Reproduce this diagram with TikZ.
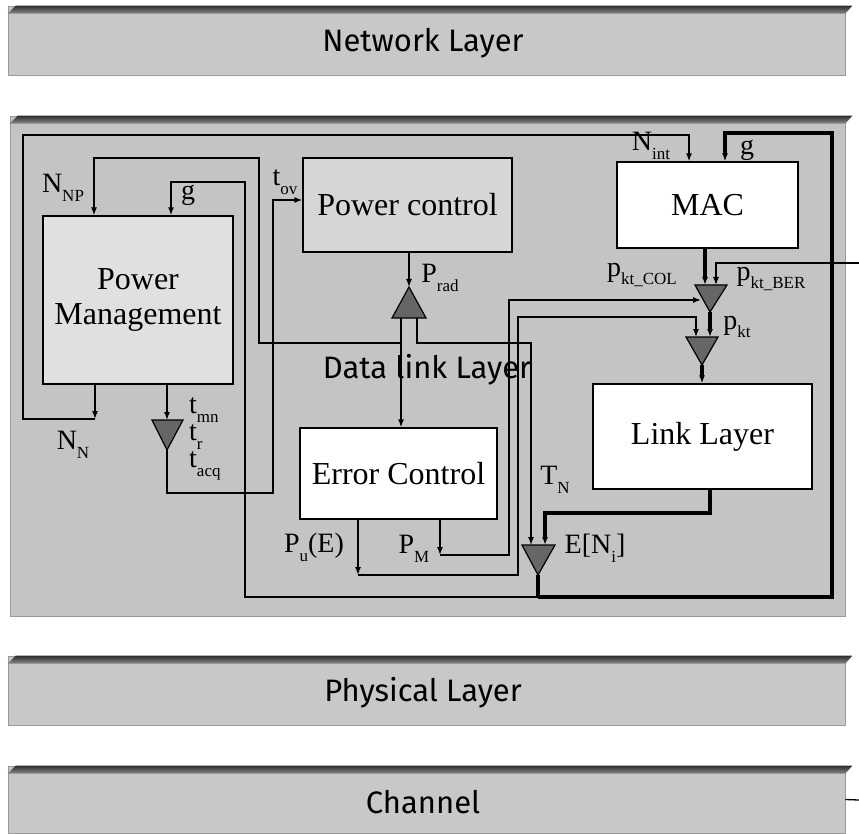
\documentclass[tikz,border=0pt]{standalone}
\usepackage{fontspec}
\setmainfont{Liberation Serif}
\newfontfamily\layerfont{Fira Sans}
\usetikzlibrary{arrows.meta,calc}
\definecolor{bgC}{RGB}{196,196,196}
\definecolor{barC}{RGB}{200,200,200}
\definecolor{pmC}{RGB}{224,224,224}
\definecolor{pcC}{RGB}{214,214,214}
\definecolor{triC}{RGB}{102,102,102}
\definecolor{bandTop}{RGB}{45,45,45}
\definecolor{bandBot}{RGB}{140,140,140}
\newcommand{\lsub}[1]{\raisebox{-0.32em}{\fontsize{17}{17}\selectfont #1}}
\tikzset{
  ln/.style={line width=1.3pt},
  med/.style={line width=2pt},
  thk/.style={line width=3.2pt},
  >={Latex[length=8pt,width=6pt]},
  box/.style={draw, line width=1.3pt, inner sep=0pt, font=\fontsize{32}{32}\selectfont},
  lbl/.style={inner sep=0pt, font=\fontsize{28}{28}\selectfont},
  tri/.style={draw, line width=1.2pt, fill=triC, line join=miter},
  bar/.style={fill=barC, draw=gray!80, line width=0.6pt, inner sep=0pt},
  bartext/.style={inner sep=0pt, font=\layerfont\fontsize{31}{31}\selectfont},
}
\newcommand{\band}[1]{%
  \shade[top color=bandTop, bottom color=bandBot]
    ([yshift=-8pt]#1.north west) -- ([xshift=8pt]#1.north west) --
    ([xshift=7pt]#1.north east) -- ([yshift=-8pt]#1.north east) -- cycle;}
\begin{document}
\begin{tikzpicture}[x=1pt,y=-1pt]
\useasboundingbox[fill=white] (0,0) rectangle (859,834);

% ---------- layer bars ----------
\node[bar, minimum width=837pt, minimum height=69pt] (net) at (426.5,40.5) {};
\band{net}
\node[bartext] (nett) at (423,43) {Network Layer};

\node[bar, fill=bgC, minimum width=835pt, minimum height=500pt] (dl) at (427.5,366) {};
\band{dl}

\node[bar, minimum width=837pt, minimum height=69pt] (phy) at (426.5,690.5) {};
\band{phy}
\node[bartext] (phyt) at (423,693) {Physical Layer};

\node[bar, minimum width=837pt, minimum height=67pt] (chan) at (426.5,799.5) {};
\band{chan}
\node[bartext] (chant) at (423,802) {Channel};
\coordinate (chR) at (859,800);
\draw[ln] (chan.east) -- (chR);

% ---------- boxes ----------
\node[box, fill=pmC, minimum width=190pt, minimum height=168pt, align=center] (pm) at (138,300)
  {Power\\[3pt]Management};
\node[box, fill=pcC, minimum width=209pt, minimum height=94pt] (pc) at (407.5,205) {Power control};
\node[box, fill=white, minimum width=181pt, minimum height=86pt] (mac) at (707.5,205) {MAC};
\node[box, fill=white, minimum width=197pt, minimum height=91pt] (ec) at (398.5,473.5) {Error Control};
\node[box, fill=white, minimum width=219pt, minimum height=105pt] (ll) at (702.5,436.5) {Link Layer};

% ---------- triangle vertices ----------
\coordinate (prapex) at (409,287); \coordinate (prbl) at (392,318); \coordinate (prbr) at (426,318);
\coordinate (utbl) at (695,285); \coordinate (utbr) at (727,285); \coordinate (utapex) at (710,312);
\coordinate (ltbl) at (686,337); \coordinate (ltbr) at (718,337); \coordinate (ltapex) at (702,365);
\coordinate (etbl) at (522,545); \coordinate (etbr) at (555,545); \coordinate (etapex) at (538,575);
\coordinate (ttbl) at (152,420); \coordinate (ttbr) at (183,420); \coordinate (ttapex) at (167,450);

% ---------- N_N -> N_int frame ----------
\coordinate (nnc) at (95,419);
\coordinate (fbl) at (23,419);
\coordinate (ftl) at (23,135);
\coordinate (fint) at (689,135);
\draw[ln,->] (pm.south -| nnc) -- (nnc);
\draw[ln,->] (nnc) -- (fbl) -- (ftl) -- (fint) -- (fint |- mac.north);

% ---------- P_rad ----------
\draw[ln,->] (pc.south -| prapex) -- (prapex);
\coordinate (prs1) at (401,318);
\coordinate (prs2) at (417,318);
\draw[ln,->] (prs1) -- (prs1 |- ec.north);

% ---------- N_NP ----------
\coordinate (prl) at (401,343);
\coordinate (npa) at (259,343);
\coordinate (npt) at (259,158);
\coordinate (npx) at (94,158);
\draw[ln,->] (prl) -- (npa) -- (npt) -- (npx) -- (npx |- pm.north);

% ---------- T_N ----------
\coordinate (tn1) at (417,343);
\coordinate (tn2) at (531,343);
\draw[ln,->] (prs2) -- (tn1) -- (tn2) -- (tn2 |- etbl);

% ---------- t triangle and t_ov ----------
\coordinate (ttop) at (167,420);
\draw[ln,->] (pm.south -| ttop) -- (ttop);
\coordinate (tb) at (167,493);
\coordinate (tbr) at (273,493);
\coordinate (tov) at (273,200);
\draw[ln,->] (ttapex) -- (tb) -- (tbr) -- (tov) -- (tov -| pc.west);

% ---------- P_M ----------
\coordinate (pmk) at (440,555);
\coordinate (pmr) at (509,555);
\coordinate (pmt) at (509,300);
\coordinate (utin) at (701,300);
\draw[ln,->] (ec.south -| pmk) -- (pmk);
\draw[ln,->] (pmk) -- (pmr) -- (pmt) -- (utin);

% ---------- P_u(E) ----------
\coordinate (puk) at (358,575);
\coordinate (pur) at (518,575);
\coordinate (put) at (518,317);
\coordinate (pux) at (696,317);
\draw[ln,->] (ec.south -| puk) -- (puk);
\draw[ln,->] (puk) -- (pur) -- (put) -- (pux) -- (pux |- ltbl);

% ---------- MAC / pkt chain ----------
\coordinate (macout) at (705,285);
\draw[thk,->] (mac.south -| macout) -- (macout);
\coordinate (berR) at (859,263);
\coordinate (ber) at (716,263);
\draw[ln,->] (berR) -- (ber) -- (ber |- utbl);
\coordinate (ltin) at (710,337);
\draw[thk,->] (utapex) -- (ltin);
\draw[thk,->] (ltapex) -- (ltapex |- ll.north);

% ---------- Link Layer -> E[N_i] ----------
\coordinate (llo) at (710,513);
\coordinate (llx) at (545,513);
\draw[thk,->] (ll.south -| llo) -- (llo) -- (llx) -- (llx |- etbl);

% ---------- E[N_i] output loops ----------
\coordinate (eo) at (538,597);
\coordinate (gb) at (245,597);
\coordinate (gt) at (245,182);
\coordinate (gx) at (171,182);
\coordinate (br) at (832,597);
\coordinate (tr) at (832,133);
\coordinate (gm) at (725,133);
\draw[thk] (etapex) -- (eo);
\draw[med,->] (eo) -- (gb) -- (gt) -- (gx) -- (gx |- pm.north);
\draw[thk,->] (eo) -- (br) -- (tr) -- (gm) -- (gm |- mac.north);

% ---------- triangles ----------
\filldraw[tri] (prbl) -- (prbr) -- (prapex) -- cycle;
\filldraw[tri] (utbl) -- (utbr) -- (utapex) -- cycle;
\filldraw[tri] (ltbl) -- (ltbr) -- (ltapex) -- cycle;
\filldraw[tri] (etbl) -- (etbr) -- (etapex) -- cycle;
\filldraw[tri] (ttbl) -- (ttbr) -- (ttapex) -- cycle;

% ---------- labels ----------
\node[bartext] (dlt) at (427,370) {Data link Layer};
\node[lbl] (lnnp) at (63,188) {N\lsub{NP}};
\node[lbl] (lgpm) at (188,195) {g};
\node[lbl] (ltov) at (285,182) {t\lsub{ov}};
\node[lbl] (lprad) at (440,278) {P\lsub{rad}};
\node[lbl] (lnint) at (651,146) {N\lsub{int}};
\node[lbl] (lgmac) at (747,150) {g};
\node[lbl] (lcol) at (642,275) {p\lsub{kt\_COL}};
\node[lbl] (lber) at (771,279) {p\lsub{kt\_BER}};
\node[lbl] (lpkt) at (737,327) {p\lsub{kt}};
\node[lbl] (lnn) at (73,445) {N\lsub{N}};
\node[lbl, anchor=west] (ltmn) at (189,410) {t\lsub{mn}};
\node[lbl, anchor=west] (ltr) at (189,437) {t\lsub{r}};
\node[lbl, anchor=west] (ltacq) at (189,466) {t\lsub{acq}};
\node[lbl] (ltn) at (555,480) {T\lsub{N}};
\node[lbl] (lpu) at (314,547) {P\lsub{u}(E)};
\node[lbl] (lpm) at (414,549) {P\lsub{M}};
\node[lbl] (len) at (595,548) {E[N\lsub{i}]};
\end{tikzpicture}
\end{document}
